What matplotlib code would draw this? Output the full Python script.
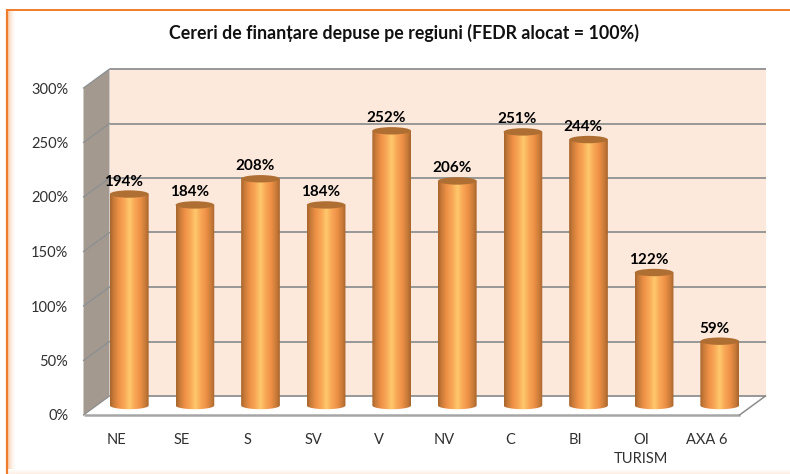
import numpy as np
import matplotlib
matplotlib.use('Agg')
import matplotlib.pyplot as plt
from matplotlib.colors import LinearSegmentedColormap
from matplotlib.patches import Polygon, Ellipse, Rectangle

# Data
regions = ['NE', 'SE', 'S', 'SV', 'V', 'NV', 'C', 'BI', 'OI\nTURISM', 'AXA 6']
values = [194, 184, 208, 184, 252, 206, 251, 244, 122, 59]
y_ticks = [0, 50, 100, 150, 200, 250, 300]
title = 'Cereri de finanțare depuse pe regiuni (FEDR alocat = 100%)'

plt.rcParams['font.family'] = ['Lato', 'DejaVu Sans']

W, H = 790, 474
fig = plt.figure(figsize=(W / 100, H / 100), dpi=100, facecolor='white')

# Slide frame: orange line and pale fade, in pixel coordinates
bg = fig.add_axes([0, 0, 1, 1], zorder=0)
fade = LinearSegmentedColormap.from_list('fade', ['#F9CFAC', '#FDEEE2', '#FFFFFF'])
bg.imshow(np.linspace(0, 1, 32).reshape(1, -1), cmap=fade, aspect='auto', extent=(8, 15, 474, 10))
bg.imshow(np.linspace(0, 1, 8).reshape(-1, 1), cmap=LinearSegmentedColormap.from_list('f2', ['#FFFFFF', '#FDEFE5']),
          aspect='auto', extent=(8, 790, 474, 469))
bg.plot([6.5, 790], [9.5, 9.5], color='#EE7D2B', lw=1.4, solid_capstyle='butt')
bg.plot([7, 7], [9, 474], color='#EE7D2B', lw=1.6, solid_capstyle='butt')
bg.set_xlim(0, W)
bg.set_ylim(H, 0)
bg.axis('off')

# Main axes is the front plane of the 3D box
ax = fig.add_axes([83.5 / W, (H - 415) / H, 656 / W, 327 / H], zorder=1)
ax.patch.set_visible(False)
for s in ax.spines.values():
    s.set_visible(False)

# Depth of the box in data units (26 px across, 19 px up)
px_x = 656 / 10
px_y = 327 / 300
dx = 26 / px_x
dy = 19 / px_y
x0, x1 = -0.5, 9.5
top = y_ticks[-1]

ax.add_patch(Rectangle((x0 + dx, dy), x1 - x0, top, fc='#FDE9DC', ec='none', clip_on=False, zorder=1))
ax.add_patch(Polygon([(x0, 0), (x0 + dx, dy), (x0 + dx, top + dy), (x0, top)],
                     fc='#A4998F', ec='none', clip_on=False, zorder=1))
ax.add_patch(Polygon([(x0, 0), (x1, 0), (x1 + dx, dy), (x0 + dx, dy)],
                     fc='white', ec='none', clip_on=False, zorder=1))

for t in y_ticks:
    ax.plot([x0 + dx, x1 + dx], [t + dy, t + dy], color='#979797', lw=1.4, clip_on=False, zorder=2,
            solid_capstyle='butt')
    if t > 0:
        ax.plot([x0, x0 + dx], [t, t + dy], color='#8A8F92', lw=0.9, clip_on=False, zorder=2)
ax.plot([x0, x1], [0, 0], color='#A6A6A6', lw=1.8, clip_on=False, zorder=2, solid_capstyle='butt')
ax.plot([x1, x1 + dx], [0, dy], color='#8C8C8C', lw=1.1, clip_on=False, zorder=2)
ax.plot([x0, x0 + dx], [0, dy], color='#8C8C8C', lw=0.9, clip_on=False, zorder=2)

# Cylinders
bar_w = 38.7 / px_x
ell_h = 7.4 / px_y
cyl = LinearSegmentedColormap.from_list('cyl', [
    (0.0, '#A8662E'), (0.07, '#C47736'), (0.22, '#EE9148'), (0.36, '#F8A655'),
    (0.5, '#FFC96C'), (0.64, '#F8A655'), (0.78, '#EE9148'), (0.93, '#C47736'), (1.0, '#A8662E')])
grad = np.linspace(0, 1, 64).reshape(1, -1)

for i, v in enumerate(values):
    cx = i + dx / 2
    base = dy / 2
    a = np.linspace(np.pi, 2 * np.pi, 40)
    arc = np.column_stack([cx + bar_w / 2 * np.cos(a), base + ell_h / 2 * np.sin(a)])
    outline = np.vstack([arc, [cx + bar_w / 2, v + base], [cx - bar_w / 2, v + base]])
    clip = Polygon(outline, fc='none', ec='none', zorder=3)
    ax.add_patch(clip)
    im = ax.imshow(grad, cmap=cyl, aspect='auto', zorder=3,
                   extent=(cx - bar_w / 2, cx + bar_w / 2, base - ell_h, v + base))
    im.set_clip_path(clip)
    ax.add_patch(Ellipse((cx, v + base), bar_w, ell_h, fc='#B06F32', ec='none', zorder=4))
    ax.annotate(f'{v}%', (cx, v + base), xytext=(-4, 9), textcoords='offset points',
                ha='center', va='center', fontsize=11, fontweight='bold', color='black', zorder=5,
                annotation_clip=False)

ax.set_xlim(-0.5, 9.5)
ax.set_ylim(0, 300)
ax.set_xticks(range(len(regions)))
ax.set_xticklabels(regions, fontsize=10.5, color='#303030', linespacing=1.45)
ax.set_yticks(y_ticks)
ax.set_yticklabels([f'{t}%' for t in y_ticks], fontsize=10.5, color='#303030', va='center_baseline')
ax.tick_params(axis='x', length=0, pad=13)
ax.tick_params(axis='y', length=0, pad=11)

fig.text(404 / W, (H - 33) / H, title, ha='center', va='center', fontsize=12.8,
         fontweight='bold', color='#111111')

fig.savefig('out.png', dpi=100)
